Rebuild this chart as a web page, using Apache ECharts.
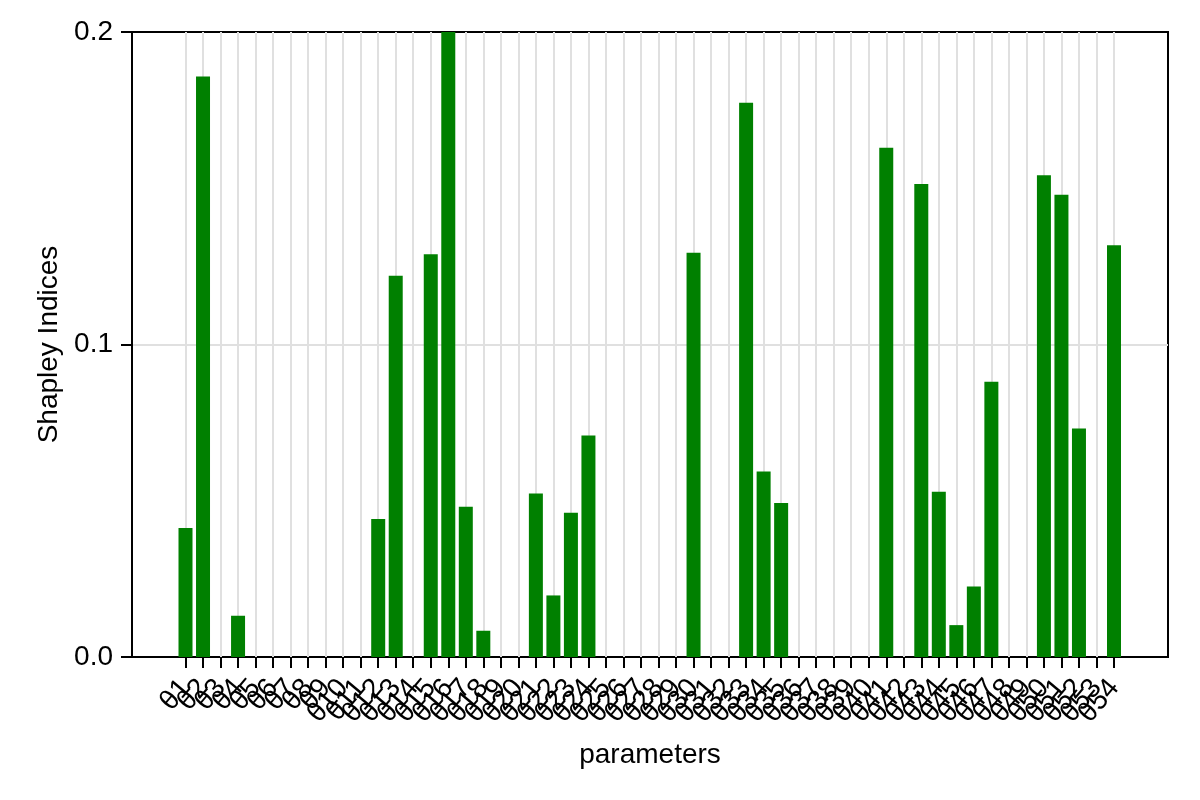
<!DOCTYPE html>
<html>
<head>
<meta charset="utf-8">
<script src="https://cdn.jsdelivr.net/npm/echarts@6/dist/echarts.min.js"></script>
<style>
  html, body { margin: 0; padding: 0; background: #fff; }
  #canvas { width: 1200px; height: 800px; }
</style>
</head>
<body>
<div id="canvas"></div>
<script>
// parameter names θ1..θ54
var params = ['θ1','θ2','θ3','θ4','θ5','θ6','θ7','θ8','θ9','θ10',
    'θ11','θ12','θ13','θ14','θ15','θ16','θ17','θ18','θ19','θ20',
    'θ21','θ22','θ23','θ24','θ25','θ26','θ27','θ28','θ29','θ30',
    'θ31','θ32','θ33','θ34','θ35','θ36','θ37','θ38','θ39','θ40',
    'θ41','θ42','θ43','θ44','θ45','θ46','θ47','θ48','θ49','θ50',
    'θ51','θ52','θ53','θ54'];

// shapley index per parameter
var shapley = [0.0413, 0.1858, 0, 0.0132, 0, 0, 0, 0, 0, 0,
    0, 0.0442, 0.122, 0, 0.1289, 0.2, 0.0481, 0.0084, 0, 0,
    0.0523, 0.0197, 0.0462, 0.0709, 0, 0, 0, 0, 0, 0.1294,
    0, 0, 0.1774, 0.0594, 0.0493, 0, 0, 0, 0, 0,
    0.163, 0, 0.1514, 0.0529, 0.0102, 0.0226, 0.0881, 0, 0, 0.1542,
    0.1479, 0.0731, 0, 0.1318];

var yTicks = [0, 0.1, 0.2];

var font = 'Liberation Sans, Arial, sans-serif';
var gridColor = '#e0e0e0';
var fs = 28;

var myChart = echarts.init(document.getElementById('canvas'));

var option = {
    animation: false,
    backgroundColor: '#fff',
    textStyle: { fontFamily: font, color: '#000' },
    grid: [
        // frame with the y axis
        { left: 132, right: 32, top: 32, bottom: 143, show: true,
          borderColor: '#000', borderWidth: 2, backgroundColor: 'transparent' },
        // inner grid for the categories, inset like the plotting lib's margins
        { left: 185.5, right: 86, top: 32, bottom: 143 }
    ],
    xAxis: [
        {
            gridIndex: 0, type: 'value', min: 0, max: 1,
            axisLine: { show: false }, axisTick: { show: false },
            axisLabel: { show: false }, splitLine: { show: false },
            name: 'parameters', nameLocation: 'middle', nameGap: 84,
            nameTextStyle: { fontSize: fs, color: '#000', fontFamily: font }
        },
        {
            gridIndex: 1, type: 'category', data: params, boundaryGap: false,
            axisLine: { show: false },
            axisTick: { show: true, length: 11, inside: false, interval: 0,
                        lineStyle: { color: '#000', width: 2 } },
            axisLabel: { interval: 0, rotate: 50, fontSize: fs, color: '#000',
                         margin: 26, fontFamily: font },
            splitLine: { show: true, interval: 0, lineStyle: { color: gridColor, width: 2 } }
        }
    ],
    yAxis: [
        {
            gridIndex: 0, type: 'value', min: yTicks[0], max: yTicks[yTicks.length - 1],
            interval: 0.1,
            axisLine: { show: true, lineStyle: { color: '#000', width: 2 } },
            axisTick: { show: true, length: 11, lineStyle: { color: '#000', width: 2 } },
            axisLabel: { fontSize: fs, color: '#000', margin: 19, fontFamily: font,
                         formatter: function (v) { return v.toFixed(1); } },
            splitLine: { show: true, showMinLine: false, showMaxLine: false,
                         lineStyle: { color: gridColor, width: 2 } },
            name: 'Shapley Indices', nameLocation: 'middle', nameGap: 66,
            nameTextStyle: { fontSize: fs, color: '#000', fontFamily: font }
        },
        {
            gridIndex: 1, type: 'value', min: 0, max: 0.2, show: false,
            splitLine: { show: false }
        }
    ],
    series: [
        {
            type: 'bar',
            xAxisIndex: 1,
            yAxisIndex: 1,
            data: shapley,
            barWidth: 14,
            clip: false,
            itemStyle: { color: '#008000' }
        }
    ]
};

myChart.setOption(option);
</script>
</body>
</html>
